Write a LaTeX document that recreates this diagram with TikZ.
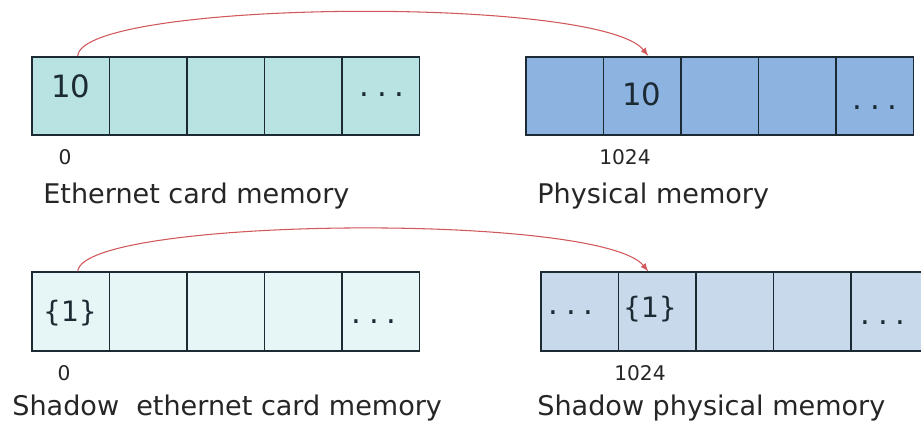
\documentclass[tikz,border=0pt]{standalone}
\usepackage{fontspec}
\setmainfont{DejaVu Sans}
\usepackage{tikz}
\usetikzlibrary{arrows}

\definecolor{ethfill}{HTML}{B9E2E3}
\definecolor{physfill}{HTML}{8DB3E0}
\definecolor{sethfill}{HTML}{E6F5F5}
\definecolor{sphysfill}{HTML}{C9D9EC}
\definecolor{cellline}{HTML}{1B2A33}
\definecolor{ptrred}{HTML}{D0575A}

\newcommand{\celldots}{.\hspace{0.24em}.\hspace{0.24em}.}

\tikzset{
  cell/.style={draw=cellline, line width=1pt, minimum width=1.55cm, minimum height=1.57cm, inner sep=0pt},
  val/.style={inner sep=0pt, text=cellline, font=\fontsize{17.5}{17.5}\selectfont},
  braceval/.style={val, font=\fontsize{16}{16}\selectfont},
  addr/.style={inner sep=0pt, text=black!85, font=\fontsize{11.5}{11.5}\selectfont},
  title/.style={inner sep=0pt, anchor=base west, text=black!85, font=\fontsize{15.4}{16}\selectfont},
  ptr/.style={draw=ptrred, line width=0.6pt, -latex}
}

\begin{document}
\begin{tikzpicture}[x=0.02cm, y=-0.02cm]
	\clip (0,0) rectangle (921,428);
	\fill[white] (0,0) rectangle (921,428);

	\node[cell, fill=ethfill] (eth0) at (70.75, 96) {};
	\node[cell, fill=ethfill] (eth1) at (148.25, 96) {};
	\node[cell, fill=ethfill] (eth2) at (225.75, 96) {};
	\node[cell, fill=ethfill] (eth3) at (303.25, 96) {};
	\node[cell, fill=ethfill] (eth4) at (380.75, 96) {};

	\node[cell, fill=physfill] (phys0) at (564.75, 96) {};
	\node[cell, fill=physfill] (phys1) at (642.25, 96) {};
	\node[cell, fill=physfill] (phys2) at (719.75, 96) {};
	\node[cell, fill=physfill] (phys3) at (797.25, 96) {};
	\node[cell, fill=physfill] (phys4) at (874.75, 96) {};

	\node[cell, fill=sethfill] (seth0) at (70.75, 311.5) {};
	\node[cell, fill=sethfill] (seth1) at (148.25, 311.5) {};
	\node[cell, fill=sethfill] (seth2) at (225.75, 311.5) {};
	\node[cell, fill=sethfill] (seth3) at (303.25, 311.5) {};
	\node[cell, fill=sethfill] (seth4) at (380.75, 311.5) {};

	\node[cell, fill=sphysfill] (sphys0) at (579.75, 311.5) {};
	\node[cell, fill=sphysfill] (sphys1) at (657.25, 311.5) {};
	\node[cell, fill=sphysfill] (sphys2) at (734.75, 311.5) {};
	\node[cell, fill=sphysfill] (sphys3) at (812.25, 311.5) {};
	\node[cell, fill=sphysfill] (sphys4) at (889.75, 311.5) {};

	\node[val] (ethval) at (71, 86) {10};
	\node[val] (ethdots) at (382, 95) {\celldots};
	\node[val] (physval) at (642, 94) {10};
	\node[val] (physdots) at (875, 108) {\celldots};

	\node[braceval] (sethval) at (70, 313) {\{1\}};
	\node[val] (sethdots) at (374, 322) {\celldots};
	\node[val] (sphysdotsa) at (571, 313) {\celldots};
	\node[braceval] (sphysval) at (650, 309) {\{1\}};
	\node[val] (sphysdotsb) at (883, 323) {\celldots};

	\node[addr] (ethaddr) at (65, 157) {0};
	\node[addr] (physaddr) at (625, 157) {1024};
	\node[addr] (sethaddr) at (64, 373) {0};
	\node[addr] (sphysaddr) at (640, 373) {1024};

	\node[title] (ethname) at (43, 204) {Ethernet card memory};
	\node[title] (physname) at (537, 204) {Physical memory};
	\node[title] (sethname) at (12, 416) {Shadow\ \ ethernet card memory};
	\node[title] (sphysname) at (537, 416) {Shadow physical memory};

	\draw[ptr] ([xshift=0.14cm]eth0.north) .. controls (82,0) and (600,-5) .. ([xshift=0.12cm]phys1.north);
	\draw[ptr] ([xshift=0.14cm]seth0.north) .. controls (82,217) and (600,212) .. ([xshift=-0.18cm]sphys1.north);
\end{tikzpicture}
\end{document}
